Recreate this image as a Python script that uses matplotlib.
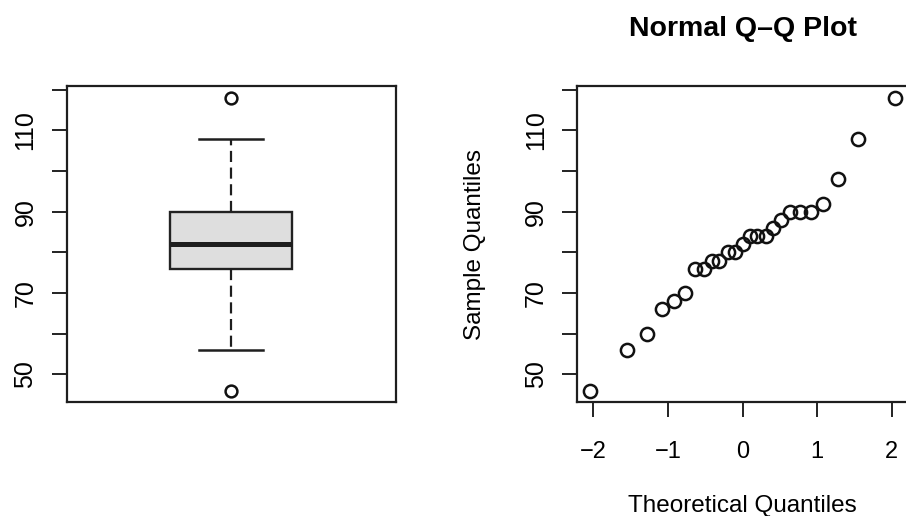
import matplotlib
matplotlib.use("Agg")
import matplotlib.pyplot as plt

plt.rcParams['font.family'] = ['Liberation Sans', 'DejaVu Sans']

# sample values (sorted)
sample = [46, 56, 60, 66, 68, 70, 76, 76, 78, 78, 80, 80, 82,
          84, 84, 84, 86, 88, 90, 90, 90, 92, 98, 108, 118]
# theoretical quantiles (x positions of the points)
theo = [-2.05, -1.55, -1.28, -1.08, -0.92, -0.77, -0.64, -0.52, -0.41,
        -0.31, -0.20, -0.10, 0.00, 0.10, 0.20, 0.31, 0.41, 0.52, 0.64,
        0.77, 0.92, 1.08, 1.28, 1.55, 2.05]

yticks = [50, 60, 70, 80, 90, 100, 110, 120]
ylabels = ['50', '', '70', '', '90', '', '110', '']
xticks = [-2, -1, 0, 1, 2]
xlabels = ['\u22122', '\u22121', '0', '1', '2']

ylo, yhi = 43.1, 120.9

fig = plt.figure(figsize=(9.06, 5.16), dpi=100)

ax1 = fig.add_axes([0.0736, 0.22, 0.3635, 0.613])
ax2 = fig.add_axes([0.6369, 0.22, 0.3653, 0.613])

# boxplot
ax1.boxplot(sample, positions=[1], widths=0.37, capwidths=0.195,
            patch_artist=True,
            boxprops=dict(facecolor='#dedede', edgecolor='#222222', linewidth=1.7),
            medianprops=dict(color='#1e1e1e', linewidth=3.6),
            whiskerprops=dict(color='#1e1e1e', linewidth=1.6, linestyle=(0, (5, 2.5))),
            capprops=dict(color='#1e1e1e', linewidth=1.8),
            flierprops=dict(marker='o', markersize=8.5, markerfacecolor='none',
                            markeredgecolor='#111111', markeredgewidth=1.8))
ax1.set_xlim(0.5, 1.5)
ax1.set_xticks([])

# Q-Q plot
ax2.plot(theo, sample, 'o', markersize=9.5, markerfacecolor='none',
         markeredgecolor='#111111', markeredgewidth=1.8)
ax2.set_xlim(-2.22, 2.22)
ax2.set_xticks(xticks)
ax2.set_xticklabels(xlabels)
ax2.set_title('Normal Q\u2013Q Plot', fontsize=20.5, fontweight='bold', pad=36)
ax2.set_xlabel('Theoretical Quantiles', fontsize=17.5, labelpad=23)
ax2.set_ylabel('Sample Quantiles', fontsize=17.5, labelpad=27)
ax2.tick_params(axis='x', labelsize=17, length=10.5, width=1.4, pad=17, color='#222222')

for ax in (ax1, ax2):
    ax.set_ylim(ylo, yhi)
    ax.set_yticks(yticks)
    ax.set_yticklabels(ylabels, rotation=90, va='center')
    ax.tick_params(axis='y', labelsize=18, length=11, width=1.4, pad=10, color='#222222')
    for s in ax.spines.values():
        s.set_linewidth(1.6)
        s.set_color('#1e1e1e')

fig.savefig('out.png', dpi=100)
